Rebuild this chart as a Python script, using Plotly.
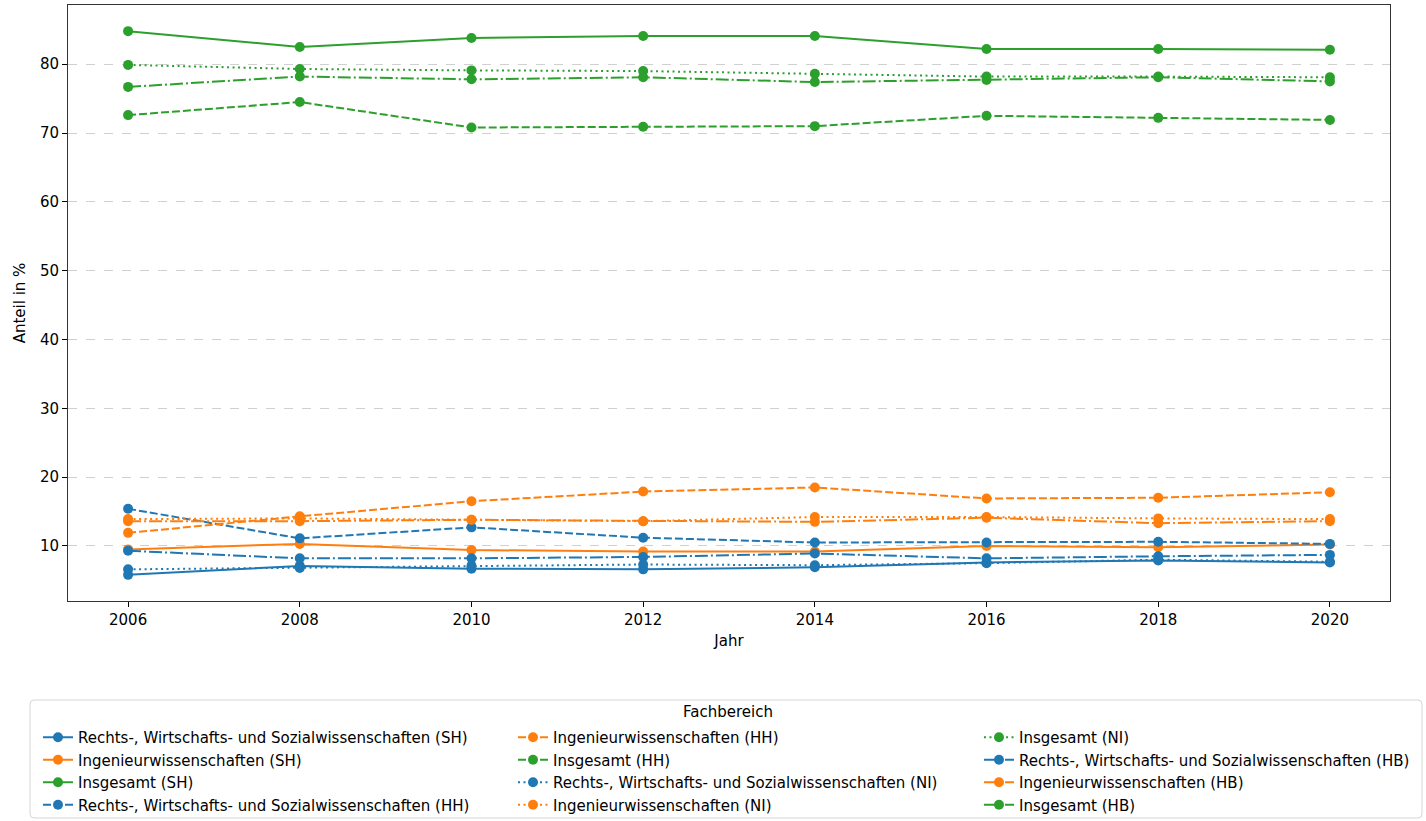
import plotly.graph_objects as go

years = [2006, 2008, 2010, 2012, 2014, 2016, 2018, 2020]

rws_sh = [5.8, 7.1, 6.7, 6.6, 6.9, 7.6, 7.9, 7.6]
ing_sh = [9.5, 10.3, 9.4, 9.2, 9.2, 10.0, 9.8, 10.2]
ins_sh = [84.8, 82.5, 83.8, 84.1, 84.1, 82.2, 82.2, 82.1]
rws_hh = [15.4, 11.1, 12.7, 11.2, 10.5, 10.5, 10.6, 10.3]
ing_hh = [11.9, 14.3, 16.5, 17.9, 18.5, 16.9, 17.0, 17.8]
ins_hh = [72.6, 74.5, 70.8, 70.9, 71.0, 72.5, 72.2, 71.9]
rws_ni = [6.6, 6.8, 7.1, 7.3, 7.2, 7.5, 8.0, 7.7]
ing_ni = [13.9, 14.0, 13.8, 13.6, 14.2, 14.2, 14.0, 13.9]
ins_ni = [79.9, 79.3, 79.1, 79.0, 78.6, 78.2, 78.2, 78.1]
rws_hb = [9.3, 8.2, 8.2, 8.4, 8.9, 8.2, 8.5, 8.7]
ing_hb = [13.6, 13.6, 13.8, 13.6, 13.5, 14.1, 13.3, 13.6]
ins_hb = [76.7, 78.2, 77.8, 78.1, 77.4, 77.7, 78.1, 77.5]

legend_title = "Fachbereich"

BLUE, ORANGE, GREEN = "#1f77b4", "#ff7f0e", "#2ca02c"
SOLID, DASH, DOT, DASHDOT = "solid", "8px,3px", "2px,3.5px", "13px,3px,2px,3px"

series = [
    ("Rechts-, Wirtschafts- und Sozialwissenschaften (SH)", rws_sh, BLUE, SOLID),
    ("Ingenieurwissenschaften (SH)", ing_sh, ORANGE, SOLID),
    ("Insgesamt (SH)", ins_sh, GREEN, SOLID),
    ("Rechts-, Wirtschafts- und Sozialwissenschaften (HH)", rws_hh, BLUE, DASH),
    ("Ingenieurwissenschaften (HH)", ing_hh, ORANGE, DASH),
    ("Insgesamt (HH)", ins_hh, GREEN, DASH),
    ("Rechts-, Wirtschafts- und Sozialwissenschaften (NI)", rws_ni, BLUE, DOT),
    ("Ingenieurwissenschaften (NI)", ing_ni, ORANGE, DOT),
    ("Insgesamt (NI)", ins_ni, GREEN, DOT),
    ("Rechts-, Wirtschafts- und Sozialwissenschaften (HB)", rws_hb, BLUE, DASHDOT),
    ("Ingenieurwissenschaften (HB)", ing_hb, ORANGE, DASHDOT),
    ("Insgesamt (HB)", ins_hb, GREEN, DASHDOT),
]

# page geometry (px)
W, H = 1426, 821
ML, MR, MT, MB = 68, 36, 5, 220
PW, PH = W - ML - MR, H - MT - MB
FS = 15


def px_x(p):
    return (p - ML) / PW


def px_y(p):
    return (H - MB - p) / PH


nrows = 4
legend_ids = ["legend", "legend2", "legend3"]
fig = go.Figure()
for i, (name, vals, color, dash) in enumerate(series):
    col = i // nrows
    fig.add_trace(go.Scatter(
        x=years, y=vals, name=name, mode="lines+markers",
        line=dict(color=color, width=2, dash=dash),
        marker=dict(color=color, size=10, symbol="circle"),
        legend=legend_ids[col], legendgroup=f"g{i}",
    ))

font = "DejaVu Sans, sans-serif"
col_text_x = [80, 555, 1021]
legend_top = 721
leg_common = dict(
    orientation="v", yanchor="top", xanchor="left",
    bgcolor="rgba(0,0,0,0)", borderwidth=0,
    font=dict(size=FS, family=font), itemwidth=30, tracegroupgap=0,
    traceorder="grouped",
)
legends = {}
for lid, tx in zip(legend_ids, col_text_x):
    legends[lid] = dict(x=px_x(tx - 42), y=px_y(legend_top), **leg_common)

# legend frame with rounded corners (paper coords)
x0, x1 = px_x(30), px_x(1422)
y0, y1 = px_y(700), px_y(818)
rx, ry = 4 / PW, 4 / PH
path = (
    f"M {x0 + rx},{y0} L {x1 - rx},{y0} Q {x1},{y0} {x1},{y0 - ry} "
    f"L {x1},{y1 + ry} Q {x1},{y1} {x1 - rx},{y1} "
    f"L {x0 + rx},{y1} Q {x0},{y1} {x0},{y1 + ry} "
    f"L {x0},{y0 - ry} Q {x0},{y0} {x0 + rx},{y0} Z"
)

fig.update_layout(
    width=W, height=H,
    margin=dict(l=ML, r=MR, t=MT, b=MB, autoexpand=False),
    paper_bgcolor="white", plot_bgcolor="white",
    font=dict(family=font, size=FS, color="black"),
    showlegend=True,
    shapes=[dict(type="path", xref="paper", yref="paper", path=path,
                 line=dict(color="#d5d5d5", width=1), fillcolor="white",
                 layer="below")],
    annotations=[dict(text=legend_title, xref="paper", yref="paper",
                      x=px_x(728), y=px_y(712), showarrow=False,
                      xanchor="center", yanchor="middle",
                      font=dict(size=FS, family=font))],
    xaxis=dict(
        range=[2005.3, 2020.7], tickmode="array", tickvals=years,
        ticks="outside", ticklen=5, tickcolor="black",
        showline=True, linecolor="#333", linewidth=1, mirror=True,
        showgrid=False, zeroline=False, tickfont=dict(size=FS),
        title=dict(text="Jahr", font=dict(size=FS), standoff=7),
    ),
    yaxis=dict(
        range=[2.0, 88.6], tickmode="array", tickvals=[10, 20, 30, 40, 50, 60, 70, 80],
        ticks="outside", ticklen=5, tickcolor="black",
        showline=True, linecolor="#333", linewidth=1, mirror=True,
        showgrid=True, gridcolor="#d0d0d0", griddash="dash", gridwidth=1,
        zeroline=False, tickfont=dict(size=FS),
        title=dict(text="Anteil in %", font=dict(size=FS), standoff=10),
    ),
    **legends,
)

fig.write_html("out.html", config={"displayModeBar": False},
               post_script="document.body.style.margin='0';")
